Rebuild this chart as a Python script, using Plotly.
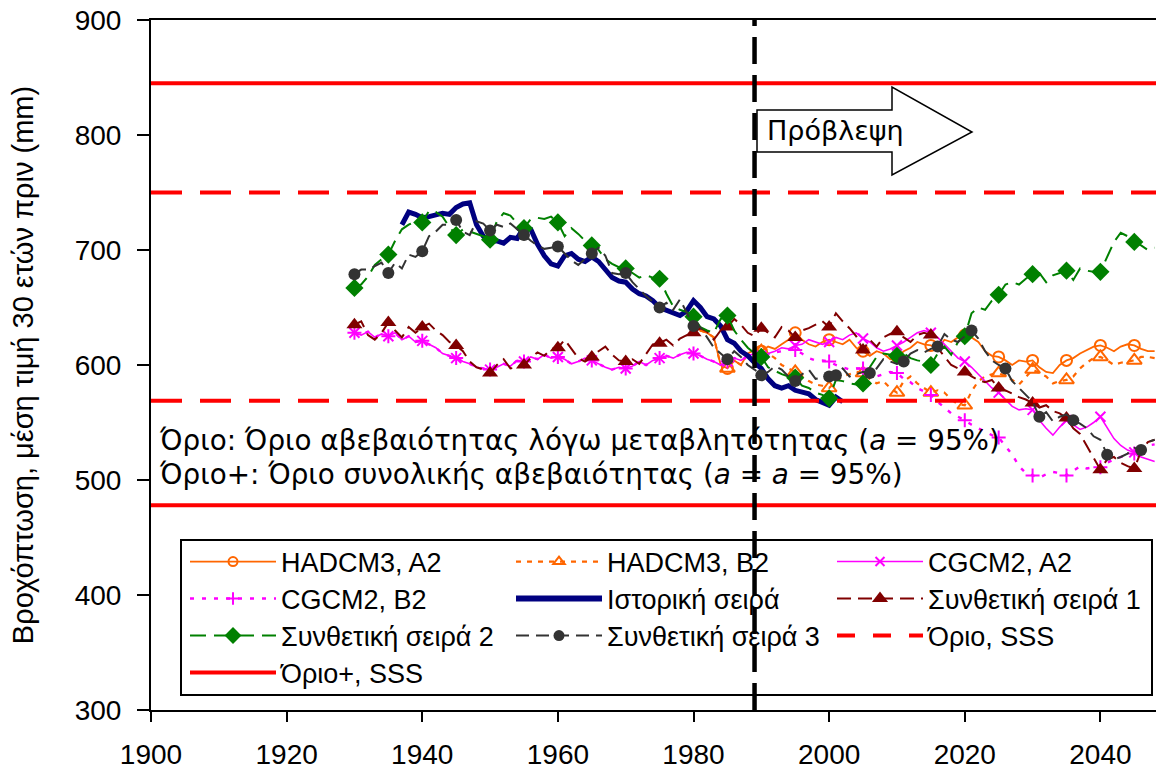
import plotly.graph_objects as go

# ---------------- data ----------------
syn_start = 1930
synth1 = [635, 638, 626, 622, 628, 637, 630, 624, 633, 628,
          633, 636, 630, 626, 620, 617, 612, 603, 598, 596,
          593, 600, 605, 597, 598, 600, 606, 611, 608, 614,
          615, 622, 614, 606, 603, 607, 612, 616, 609, 604,
          603, 605, 601, 610, 618, 619, 622, 617, 623, 626,
          628, 632, 629, 622, 630, 633, 640, 635, 628, 625,
          632, 628, 624, 633, 630, 624, 630, 632, 635, 638,
          633, 645, 638, 632, 625, 613, 622, 616, 624, 627,
          629, 624, 620, 626, 628, 626, 615, 607, 600, 597,
          594, 590, 587, 585, 587, 580, 578, 575, 572, 570,
          567, 563, 565, 560, 558, 554, 545, 540, 530, 520,
          509, 518, 520, 515, 512, 510, 525, 533, 535]
synth2 = [667, 670, 677, 687, 692, 696, 708, 718, 722, 725,
          724, 734, 733, 729, 720, 713, 718, 716, 714, 712,
          709, 725, 732, 730, 723, 719, 727, 728, 727, 729,
          724, 712, 719, 714, 708, 704, 700, 692, 688, 685,
          684, 680, 676, 678, 676, 675, 662, 651, 648, 646,
          642, 633, 630, 628, 640, 643, 630, 622, 615, 610,
          607, 598, 595, 592, 590, 589, 582, 580, 576, 574,
          571, 587, 586, 584, 583, 584, 598, 607, 610, 609,
          608, 610, 606, 604, 603, 600, 610, 616, 609, 620,
          625, 645, 650, 648, 656, 661, 670, 672, 670, 675,
          679, 680, 672, 678, 680, 682, 674, 684, 682, 681,
          681, 694, 707, 715, 712, 707, 704, 700, 702]
synth3 = [679, 683, 683, 686, 689, 680, 689, 684, 696, 694,
          699, 712, 716, 722, 722, 726, 716, 713, 725, 723,
          717, 722, 720, 723, 718, 713, 708, 704, 701, 702,
          703, 697, 691, 687, 692, 697, 702, 695, 680, 679,
          680, 672, 666, 660, 655, 650, 654, 648, 657, 645,
          634, 633, 624, 615, 610, 605, 612, 607, 600, 596,
          591, 594, 599, 596, 590, 586, 592, 596, 588, 589,
          590, 591, 597, 590, 592, 594, 593, 597, 605, 603,
          601, 603, 610, 613, 611, 614, 616, 627, 622, 620,
          625, 630, 623, 612, 604, 600, 597, 586, 580, 574,
          568, 555, 559, 551, 555, 557, 552, 549, 545, 538,
          535, 522, 518, 520, 523, 528, 526, 533, 535]

hist_start = 1937
historical = [722, 733, 731, 728, 729, 731, 732, 731, 737, 740,
              741, 722, 712, 707, 708, 706, 711, 710, 720, 718,
              705, 695, 688, 686, 695, 697, 692, 690, 694, 690,
              683, 676, 673, 672, 666, 662, 660, 656, 650, 648,
              645, 643, 647, 656, 650, 642, 640, 634, 622, 619,
              612, 608, 602, 597, 588, 582, 580, 582, 578, 576,
              575, 570, 567, 565, 572, 568]

cg_start = 1930
cgcm2_hist = [628, 626, 629, 624, 627, 625, 628, 622, 625, 620,
              621, 618, 615, 610, 608, 606, 603, 601, 598, 597,
              596, 598, 601, 599, 604, 603, 607, 605, 609, 606,
              607, 605, 601, 603, 606, 604, 601, 598, 596, 598,
              597, 599, 603, 600, 604, 606, 608, 606, 609, 611,
              610, 608, 605, 603, 600, 603, 606, 604, 608, 610,
              608]
cgcm2_a2_fut = [610, 612, 615, 614, 617, 618, 622, 620, 618, 620,
                624, 622, 626, 628, 623, 620, 615, 612, 614, 617,
                620, 624, 628, 630, 628, 624, 618, 612, 606, 603,
                598, 592, 586, 580, 576, 570, 564, 561, 562, 561,
                552, 545, 539, 546, 552, 548, 544, 546, 550, 555,
                546, 536, 530, 526, 524, 520, 518, 516]
cgcm2_b2_fut = [609, 611, 612, 614, 613, 610, 606, 604, 604, 603,
                600, 598, 596, 597, 597, 595, 590, 592, 594, 593,
                588, 585, 580, 577, 574, 568, 563, 558, 555, 552,
                548, 545, 542, 539, 537, 530, 522, 512, 506, 504,
                502, 505, 507, 506, 504, 508, 512, 510, 511, 511,
                515, 518, 520, 522, 523, 528, 530, 531]

had_start = 1979
had_hist = [645, 640, 630, 628, 624, 600, 597, 604, 600, 610,
            613, 612]
had_a2_fut = [616, 614, 618, 622, 628, 622, 618, 616, 620, 622,
              620, 618, 622, 615, 612, 608, 612, 610, 605, 607,
              612, 615, 620, 618, 617, 614, 622, 620, 624, 626,
              624, 620, 612, 608, 607, 604, 600, 604, 603, 604,
              598, 594, 593, 600, 604, 606, 610, 613, 616, 617,
              615, 612, 616, 618, 617, 614, 612, 612]
had_b2_fut = [610, 606, 600, 597, 594, 590, 586, 583, 582, 580,
              586, 590, 592, 594, 593, 588, 584, 586, 580, 576,
              586, 590, 584, 580, 576, 578, 576, 570, 566, 565,
              577, 586, 590, 592, 593, 590, 587, 583, 590, 596,
              593, 590, 584, 586, 587, 590, 597, 602, 606, 607,
              604, 600, 602, 603, 604, 607, 607, 606]

limit_sss = [750, 569]        # Όριο, SSS
limit_plus_sss = [845, 478]   # Όριο+, SSS
forecast_year = 1989
x_ticks = [1900, 1920, 1940, 1960, 1980, 2000, 2020, 2040]
y_ticks = [300, 400, 500, 600, 700, 800, 900]

marker_years_5 = list(range(1930, 2046, 5))
marker_years_syn3 = list(range(1930, 2001, 5)) + list(range(2001, 2047, 5))
marker_years_had = list(range(1985, 2046, 5))

# ---------------- build ----------------
def years(start, vals):
    return list(range(start, start + len(vals)))

syn_years = years(syn_start, synth1)
hist_years = years(hist_start, historical)
cg_a2 = cgcm2_hist + cgcm2_a2_fut
cg_b2 = cgcm2_hist + cgcm2_b2_fut
cg_years = years(cg_start, cg_a2)
had_a2 = had_hist + had_a2_fut
had_b2 = had_hist + had_b2_fut
had_years = years(had_start, had_a2)

def pick(xs, ys, sel):
    d = dict(zip(xs, ys))
    px_ = [x for x in sel if x in d]
    return px_, [d[x] for x in px_]

ORANGE = "#FF6600"
MAGENTA = "#FF00FF"
NAVY = "#000080"
MAROON = "#800000"
GREEN = "#008000"
GRAY = "#333333"
RED = "#FF0000"

# plot-area pixel geometry
PL, PW, PT, PH = 151, 1005, 20, 690
def px(x):
    return (x - PL) / PW
def py(y):
    return 1 - (y - PT) / PH

# legend cells: (text-x px, row-center-y px)
COLS = [281, 607, 928]
ROWS = [562, 599, 636, 673]

fig = go.Figure()

series = [
    # name, xs, ys, color, width, dash, symbol, msize, marker years, (col,row), legend msize
    ("HADCM3, A2", had_years, had_a2, ORANGE, 1.8, "solid", "circle-open", 11, marker_years_had, (0, 0), 9),
    ("HADCM3, B2", had_years, had_b2, ORANGE, 2.2, "5px,6px", "triangle-up-open", 13, marker_years_had, (1, 0), 10),
    ("CGCM2, A2", cg_years, cg_a2, MAGENTA, 1.6, "solid", "x-thin-open", 10, marker_years_5, (2, 0), 9),
    ("CGCM2, B2", cg_years, cg_b2, MAGENTA, 2.4, "4px,8px", "cross-thin-open", 10, marker_years_5, (0, 1), 9),
    ("Ιστορική σειρά", hist_years, historical, NAVY, 5, "solid", None, 0, [], (1, 1), 0),
    ("Συνθετική σειρά 1", syn_years, synth1, MAROON, 2, "14px,7px", "triangle-up", 14, marker_years_5, (2, 1), 14),
    ("Συνθετική σειρά 2", syn_years, synth2, GREEN, 2, "16px,8px", "diamond", 14, marker_years_5, (0, 2), 13),
    ("Συνθετική σειρά 3", syn_years, synth3, GRAY, 2, "13px,7px", "circle", 12, marker_years_syn3, (1, 2), 11),
]

for (name, xs, ys, col, w, dash, sym, ms, myears, cell, lms) in series:
    fig.add_trace(go.Scatter(x=xs, y=ys, mode="lines", line=dict(color=col, width=w, dash=dash),
                             showlegend=False, hoverinfo="skip"))
    if sym:
        mx, my = pick(xs, ys, myears)
        mline = 2 if "open" in sym else 0
        fig.add_trace(go.Scatter(x=mx, y=my, mode="markers",
                                 marker=dict(symbol=sym, size=ms, color=col,
                                             line=dict(color=col, width=mline)),
                                 showlegend=False, hoverinfo="skip"))

# horizontal limit lines
lim_x = [1900, 2050, None, 1900, 2050]
fig.add_trace(go.Scatter(x=lim_x, y=[limit_sss[0], limit_sss[0], None, limit_sss[1], limit_sss[1]],
                         mode="lines", line=dict(color=RED, width=4, dash="31px,18px"),
                         showlegend=False, hoverinfo="skip"))
fig.add_trace(go.Scatter(x=lim_x, y=[limit_plus_sss[0], limit_plus_sss[0], None, limit_plus_sss[1], limit_plus_sss[1]],
                         mode="lines", line=dict(color=RED, width=4),
                         showlegend=False, hoverinfo="skip"))

# legend entries: one small legend per cell so the 3-column grid matches
leg_font = dict(family="Liberation Sans, Arial, sans-serif", size=27, color="black")
ITEMW = 86
legend_layout = {}
entries = []
for (name, xs, ys, col, w, dash, sym, ms, myears, cell, lms) in series:
    lw = 6 if name == "Ιστορική σειρά" else w
    mk = dict(symbol=sym, size=lms, color=col,
              line=dict(color=col, width=2 if "open" in sym else 0)) if sym else None
    entries.append((name, "lines+markers" if sym else "lines", dict(color=col, width=lw, dash=dash), mk, cell))
entries.append(("Όριο, SSS", "lines", dict(color=RED, width=4, dash="18px,18px"), None, (2, 2)))
entries.append(("Όριο+, SSS", "lines", dict(color=RED, width=4), None, (0, 3)))

for i, (name, mode, line, mk, (c, r)) in enumerate(entries):
    key = "legend" if i == 0 else f"legend{i + 1}"
    fig.add_trace(go.Scatter(x=[None], y=[None], mode=mode, name=name, line=line, marker=mk, legend=key))
    legend_layout[key] = dict(x=px(COLS[c] - ITEMW - 10), y=py(ROWS[r]), xanchor="left", yanchor="middle",
                              font=leg_font, bgcolor="rgba(0,0,0,0)", borderwidth=0,
                              itemwidth=ITEMW, tracegroupgap=0)

# ---------------- layout ----------------
tick_font = dict(family="Liberation Sans, Arial, sans-serif", size=28, color="black")

fig.update_layout(
    width=1156, height=774,
    margin=dict(l=PL, r=1156 - PL - PW, t=PT, b=774 - PT - PH, pad=0, autoexpand=False),
    paper_bgcolor="white", plot_bgcolor="white",
    showlegend=True,
    xaxis=dict(range=[1900, 2048.2], tickvals=x_ticks, ticks="outside", ticklen=10, tickwidth=2,
               tickcolor="black", showline=True, linecolor="black", linewidth=2, mirror=True,
               showgrid=False, zeroline=False, tickfont=tick_font, ticklabelstandoff=8,
               automargin=False),
    yaxis=dict(range=[300, 900], tickvals=y_ticks, ticks="outside", ticklen=12, tickwidth=2,
               tickcolor="black", showline=True, linecolor="black", linewidth=2,
               showgrid=False, zeroline=False, tickfont=tick_font, ticklabelstandoff=10,
               automargin=False,
               title=dict(text="Βροχόπτωση, μέση τιμή 30 ετών πριν (mm)",
                          font=dict(family="Liberation Sans, Arial, sans-serif", size=29, color="black"),
                          standoff=33)),
    **legend_layout,
)

shapes = [
    # legend frame
    dict(type="rect", xref="paper", yref="paper", x0=px(181), x1=px(1152), y0=py(695), y1=py(540),
         line=dict(color="black", width=2), fillcolor="white", layer="above"),
    # forecast vertical line
    dict(type="line", xref="x", yref="paper", x0=forecast_year, x1=forecast_year, y0=0, y1=1,
         line=dict(color="black", width=4.5, dash="27px,11px"), layer="above"),
    # forecast arrow
    dict(type="path", xref="paper", yref="paper",
         path=(f"M{px(757)},{py(110)} L{px(892)},{py(110)} L{px(892)},{py(87)} L{px(972)},{py(132)} "
               f"L{px(892)},{py(175)} L{px(892)},{py(152)} L{px(757)},{py(152)} Z"),
         line=dict(color="black", width=1.5), fillcolor="white", layer="above"),
]
fig.update_layout(shapes=shapes)

ann_font = dict(family="DejaVu Sans, Verdana, sans-serif", size=27.8, color="black")
fig.add_annotation(xref="paper", yref="paper", x=px(765), y=py(131), xanchor="left", yanchor="middle",
                   text="Πρόβλεψη", showarrow=False,
                   font=dict(family="DejaVu Sans, Verdana, sans-serif", size=27, color="black"))
fig.add_annotation(xref="paper", yref="paper", x=px(157), y=py(441), xanchor="left", yanchor="middle",
                   text="Όριο: Όριο αβεβαιότητας λόγω μεταβλητότητας (<i>a</i> = 95%)", showarrow=False,
                   font=ann_font)
fig.add_annotation(xref="paper", yref="paper", x=px(157), y=py(474), xanchor="left", yanchor="middle",
                   text="Όριο+: Όριο συνολικής αβεβαιότητας (<i>a</i> = <i>a</i> = 95%)", showarrow=False,
                   font=ann_font)

# remove the browser's default 8px page margin so the 1156x774 figure fills the window
fig.write_html("out.html", config={"displayModeBar": False},
               post_script="document.body.style.margin='0px';")
